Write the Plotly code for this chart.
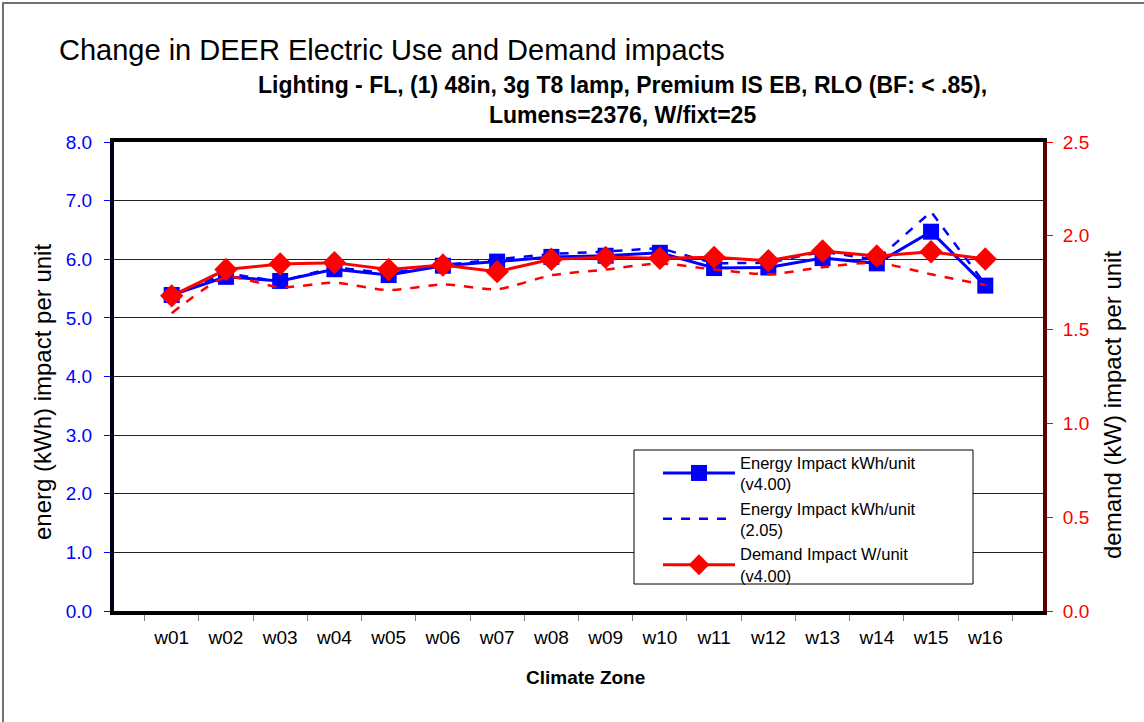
import plotly.graph_objects as go

zones = ["w01", "w02", "w03", "w04", "w05", "w06", "w07", "w08",
         "w09", "w10", "w11", "w12", "w13", "w14", "w15", "w16"]
energy_v400 = [5.39, 5.70, 5.63, 5.83, 5.73, 5.89, 5.96, 6.04, 6.06, 6.11, 5.85, 5.86, 6.02, 5.93, 6.47, 5.55]
energy_205 = [5.39, 5.76, 5.62, 5.86, 5.76, 5.90, 6.00, 6.09, 6.13, 6.19, 5.93, 5.94, 6.13, 5.99, 6.81, 5.57]
demand_v400 = [1.68, 1.82, 1.85, 1.857, 1.82, 1.844, 1.809, 1.875, 1.885, 1.88, 1.885, 1.867, 1.919, 1.892, 1.915, 1.876]
demand_205 = [1.587, 1.78, 1.725, 1.75, 1.71, 1.741, 1.715, 1.79, 1.82, 1.853, 1.82, 1.795, 1.832, 1.857, 1.795, 1.738]

FONT = "Arial, Liberation Sans, sans-serif"

fig = go.Figure()
fig.add_trace(go.Scatter(
    x=zones, y=demand_205, yaxis="y2", mode="lines", showlegend=False,
    name="Demand Impact W/unit (2.05)",
    line=dict(color="#ff0000", width=2.5, dash="dash", shape="spline", smoothing=0.6)))
fig.add_trace(go.Scatter(
    x=zones, y=energy_v400, mode="lines+markers",
    name="Energy Impact kWh/unit<br>(v4.00)",
    line=dict(color="#0000ff", width=3),
    marker=dict(symbol="square", size=16, color="#0000ff")))
fig.add_trace(go.Scatter(
    x=zones, y=energy_205, mode="lines",
    name="Energy Impact kWh/unit<br>(2.05)",
    line=dict(color="#0000ff", width=2.5, dash="dash")))
fig.add_trace(go.Scatter(
    x=zones, y=demand_v400, yaxis="y2", mode="lines+markers",
    name="Demand Impact W/unit<br>(v4.00)",
    line=dict(color="#ff0000", width=3),
    marker=dict(symbol="diamond", size=18, color="#ff0000")))

def px_x(p):
    return (p - 114) / 929.0

def px_y(p):
    return (611 - p) / 469.0

fig.update_layout(
    width=1144, height=722,
    margin=dict(l=114, r=101, t=142, b=111),
    paper_bgcolor="white", plot_bgcolor="white",
    font=dict(family=FONT, size=19, color="black"),
    xaxis=dict(
        type="category", showgrid=False,
        showline=True, linecolor="black", linewidth=4, mirror=True,
        ticks="outside", tickson="boundaries", ticklen=6, tickcolor="#808080",
        tickfont=dict(size=19, color="black"), ticklabelstandoff=6),
    yaxis=dict(
        range=[0, 8], dtick=1, tickformat=".1f",
        showgrid=True, gridcolor="#222222", gridwidth=1,
        showline=True, linecolor="#000020", linewidth=4,
        ticks="outside", ticklen=6, tickcolor="#0000ff",
        tickfont=dict(size=19, color="#0000ff"), zeroline=False,
        ticklabelstandoff=8),
    yaxis2=dict(
        range=[0, 2.5], dtick=0.5, tickformat=".1f", overlaying="y", side="right",
        showgrid=False, showline=True, linecolor="#600000", linewidth=4,
        ticks="outside", ticklen=6, tickcolor="#ff0000",
        tickfont=dict(size=19, color="#ff0000"), zeroline=False,
        ticklabelstandoff=6),
    legend=dict(
        x=px_x(658), y=px_y(445), xanchor="left", yanchor="top",
        bgcolor="rgba(0,0,0,0)", borderwidth=0,
        font=dict(size=16.5, color="black"), itemwidth=72,
        tracegroupgap=0),
    showlegend=True,
)

# legend frame
fig.add_shape(type="rect", xref="paper", yref="paper",
              x0=px_x(634), x1=px_x(973), y0=px_y(584), y1=px_y(450),
              line=dict(color="black", width=1), fillcolor="white", layer="above")

fig.add_annotation(
    x=px_x(57), y=px_y(50), xref="paper", yref="paper", xanchor="left", yanchor="middle",
    text="Change in DEER Electric Use and Demand impacts", showarrow=False,
    font=dict(size=29, color="black", family=FONT))
fig.add_annotation(
    x=px_x(622), y=px_y(85), xref="paper", yref="paper", xanchor="center", yanchor="middle",
    text="<b>Lighting - FL, (1) 48in, 3g T8 lamp, Premium IS EB, RLO (BF: < .85),</b>",
    showarrow=False, font=dict(size=23, color="black", family=FONT))
fig.add_annotation(
    x=px_x(622), y=px_y(115), xref="paper", yref="paper", xanchor="center", yanchor="middle",
    text="<b>Lumens=2376, W/fixt=25</b>",
    showarrow=False, font=dict(size=23, color="black", family=FONT))
fig.add_annotation(
    x=px_x(585), y=px_y(677), xref="paper", yref="paper", xanchor="center", yanchor="middle",
    text="<b>Climate Zone</b>", showarrow=False,
    font=dict(size=19, color="black", family=FONT))
fig.add_annotation(
    x=px_x(42), y=px_y(392), xref="paper", yref="paper", xanchor="center", yanchor="middle",
    text="energ (kWh) impact per unit", textangle=-90, showarrow=False,
    font=dict(size=24, color="black", family=FONT))
fig.add_annotation(
    x=px_x(1112), y=px_y(405), xref="paper", yref="paper", xanchor="center", yanchor="middle",
    text="demand (kW) impact per unit", textangle=-90, showarrow=False,
    font=dict(size=24, color="black", family=FONT))

# outer chart border
fig.add_shape(type="rect", xref="paper", yref="paper",
              x0=px_x(3), x1=px_x(1160), y0=px_y(740), y1=px_y(3),
              line=dict(color="#707070", width=2), fillcolor="rgba(0,0,0,0)", layer="below")

fig.write_html("out.html", config={"displayModeBar": False})

with open("out.html", "r", encoding="utf-8") as f:
    html = f.read()
html = html.replace("<head>", "<head><style>html,body{margin:0;padding:0;}</style>", 1)
with open("out.html", "w", encoding="utf-8") as f:
    f.write(html)
